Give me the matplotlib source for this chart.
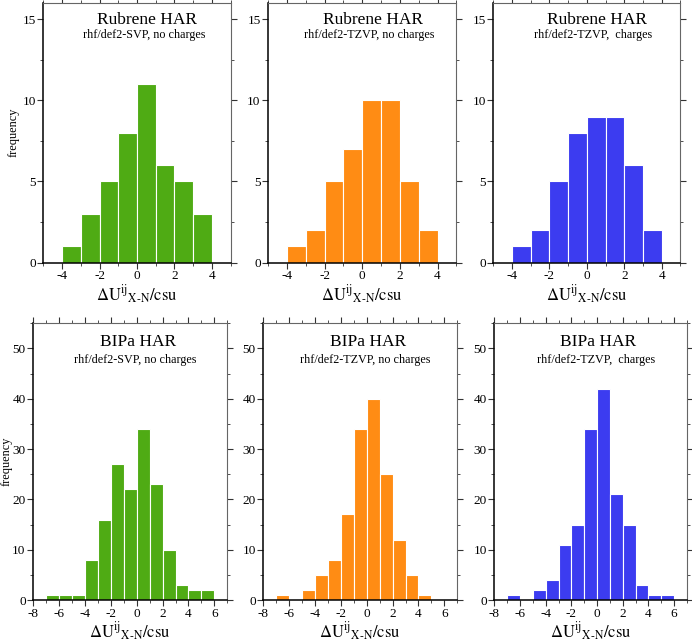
import numpy as np
import matplotlib
matplotlib.use("Agg")
import matplotlib.pyplot as plt
from matplotlib.ticker import MultipleLocator

plt.rcParams['font.family'] = ['Liberation Serif', 'DejaVu Serif']
plt.rcParams['mathtext.fontset'] = 'stix'
plt.rcParams['axes.unicode_minus'] = False

# ---- data ----
top_edges = [-4, -3, -2, -1, 0, 1, 2, 3, 4]
rub_svp = [1, 3, 5, 8, 11, 6, 5, 3]
rub_tzvp = [1, 2, 5, 7, 10, 10, 5, 2]
rub_tzvp_ch = [1, 2, 5, 8, 9, 9, 6, 2]

bot_edges = [-7, -6, -5, -4, -3, -2, -1, 0, 1, 2, 3, 4, 5, 6]
bip_svp = [1, 1, 1, 8, 16, 27, 22, 34, 23, 10, 3, 2, 2]
bip_tzvp = [1, 0, 2, 5, 8, 17, 34, 40, 25, 12, 5, 1, 0]
bip_tzvp_ch = [1, 0, 2, 4, 11, 15, 34, 42, 21, 15, 3, 1, 1]

titles_top = ["Rubrene HAR"] * 3
titles_bot = ["BIPa HAR"] * 3
subtitles = ["rhf/def2-SVP, no charges", "rhf/def2-TZVP, no charges", "rhf/def2-TZVP,  charges"]
colors = ["#4fab14", "#ff8c14", "#3c3cf0"]

xlabel = r'$\mathrm{\Delta U^{ij}{}_{X\text{-}N}/csu}$'

fig = plt.figure(figsize=(6.92, 6.42), dpi=100)

top_pos = [(0.0626, 0.5908, 0.2708, 0.4048),
           (0.3877, 0.5908, 0.2717, 0.4048),
           (0.7129, 0.5908, 0.2704, 0.4048)]
bot_pos = [(0.0481, 0.0654, 0.2803, 0.431),
           (0.3805, 0.0654, 0.2803, 0.431),
           (0.7143, 0.0654, 0.2785, 0.431)]


def style(ax):
    ax.tick_params(which='both', direction='out', top=True, right=True,
                   labelsize=9.5, pad=1.5, color='#333333')
    ax.tick_params(which='major', length=4, width=0.8)
    ax.tick_params(which='minor', length=2.5, width=0.6)
    for s in ['left', 'bottom']:
        ax.spines[s].set_linewidth(1.1)
        ax.spines[s].set_color('black')
    for s in ['top', 'right']:
        ax.spines[s].set_linewidth(0.8)
        ax.spines[s].set_color('#666666')


def draw(pos, edges, counts, color, title, sub, xlim, ylim, xmaj, xmin, ymaj, ymin,
         ty, sy, tx, sx, ylab):
    ax = fig.add_axes(pos)
    e = np.array(edges, dtype=float)
    ax.bar(e[:-1], counts, width=np.diff(e), align='edge', color=color,
           edgecolor='white', linewidth=0.8)
    ax.set_xlim(*xlim)
    ax.set_ylim(*ylim)
    ax.xaxis.set_major_locator(MultipleLocator(xmaj))
    ax.xaxis.set_minor_locator(MultipleLocator(xmin))
    ax.yaxis.set_major_locator(MultipleLocator(ymaj))
    ax.yaxis.set_minor_locator(MultipleLocator(ymin))
    style(ax)
    ax.text(tx, ty, title, transform=ax.transAxes, ha='center', va='center', fontsize=12.5)
    ax.text(sx, sy, sub, transform=ax.transAxes, ha='center', va='center', fontsize=8.7)
    ax.set_xlabel(xlabel, fontsize=12, labelpad=1)
    if ylab is not None:
        ax.set_ylabel('frequency', fontsize=8.8, labelpad=ylab)
    return ax


series_top = [rub_svp, rub_tzvp, rub_tzvp_ch]
series_bot = [bip_svp, bip_tzvp, bip_tzvp_ch]

for i in range(3):
    draw(top_pos[i], top_edges, series_top[i], colors[i], titles_top[i], subtitles[i],
         (-5, 5), (0, 16), 2, 1, 5, 2.5, 0.933, 0.878, 0.555, 0.536,
         2 if i == 0 else None)
    draw(bot_pos[i], bot_edges, series_bot[i], colors[i], titles_bot[i], subtitles[i],
         (-8, 7), (0, 55), 2, 1, 10, 5, 0.933, 0.867, 0.541, 0.528,
         0 if i == 0 else None)

fig.savefig("out.png", dpi=100)
